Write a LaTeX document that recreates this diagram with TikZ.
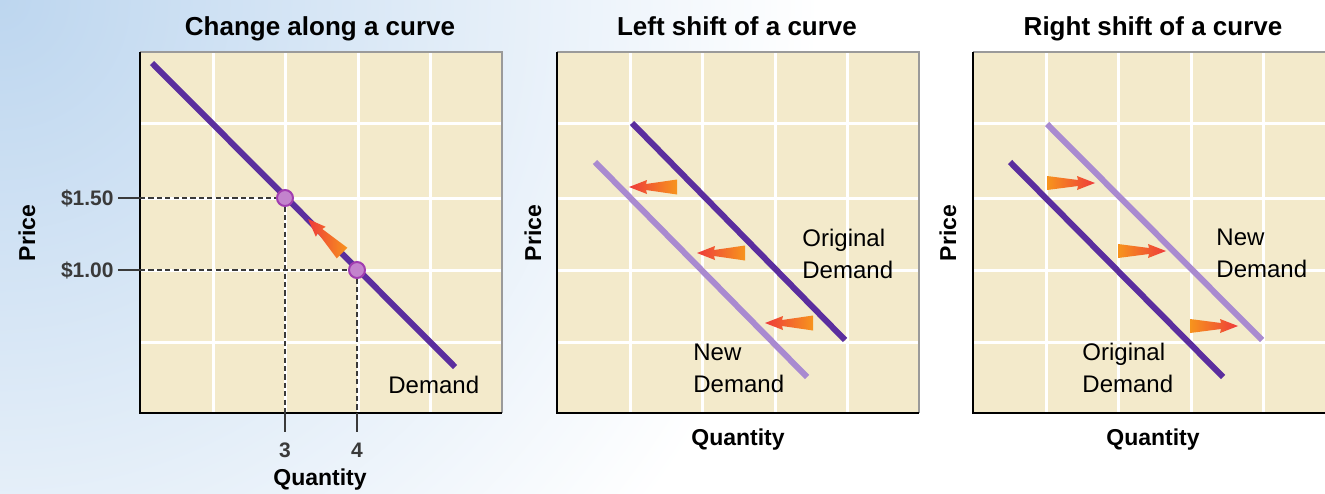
\documentclass[tikz,border=0pt]{standalone}
\usepackage{fontspec}
\setmainfont{Liberation Sans}
\usetikzlibrary{calc}
\definecolor{bgblue}{HTML}{BDD6EF}
\definecolor{plotbg}{HTML}{F3EACB}
\definecolor{darkpur}{HTML}{5B2E9E}
\definecolor{lightpur}{HTML}{A98AD0}
\definecolor{arrorange}{HTML}{F7941D}
\definecolor{arrred}{HTML}{EE3B3B}
\definecolor{ptfill}{HTML}{C383CD}
\definecolor{ptdraw}{HTML}{A13DB0}
\definecolor{framegray}{HTML}{9A9A9A}
\definecolor{guidegray}{HTML}{3A3A3A}
\tikzset{
  titletext/.style={font=\bfseries\fontsize{13}{15}\selectfont, inner sep=0pt, anchor=base},
  axlabel/.style={font=\bfseries\fontsize{11.5}{13}\selectfont, inner sep=0pt},
  ticklabel/.style={font=\bfseries\fontsize{10.5}{12}\selectfont, inner sep=0pt, text=guidegray},
  curvelabel/.style={font=\fontsize{12}{16}\selectfont, align=left, inner sep=0pt, anchor=north west},
  gridline/.style={white, line width=1.5pt},
  origline/.style={darkpur, line width=3pt},
  newline/.style={lightpur, line width=3pt},
  guide/.style={guidegray, line width=0.95pt, dash pattern=on 2.6pt off 1.6pt},
  tickline/.style={guidegray, line width=0.95pt},
  ptmark/.style={circle, fill=ptfill, draw=ptdraw, line width=1pt, minimum size=8pt, inner sep=0pt},
  pics/rarrow/.style={code={
    \shade[left color=arrorange, right color=arrred]
      (0,-7) -- (31,-3) -- (30,-7) -- (48,0) -- (30,7) -- (31,3) -- (0,7) -- cycle;
  }},
  pics/larrow/.style={code={
    \shade[left color=arrred, right color=arrorange]
      (0,-7.5) -- (-31,-3) -- (-30,-7) -- (-48,0) -- (-30,7) -- (-31,3) -- (0,7.5) -- cycle;
  }},
}
\newcommand{\plotframe}{%
  \fill[plotbg] (0,52) rectangle (362,413);
  \foreach \gx in {73,145,218,290} \draw[gridline] (\gx,52) -- (\gx,413);
  \foreach \gy in {123,198,270,342} \draw[gridline] (0,\gy) -- (362,\gy);
  \draw[framegray, line width=0.8pt] (0,52) -- (362,52) -- (362,413);
  \draw[black, line width=1.2pt] (0,52) -- (0,413) -- (362,413);
}
\begin{document}
\begin{tikzpicture}[x=0.5pt, y=-0.5pt]
  \useasboundingbox (0,0) rectangle (1325,493);
  \clip (0,0) rectangle (1325,493);
  \fill[white] (0,0) rectangle (1325,493);
  \shade[inner color=bgblue, outer color=white] (0,0) circle (820);

  % ---------------- Panel 1 ----------------
  \begin{scope}[shift={(140,0)}]
    \plotframe
    \node[titletext] (title1) at (180,35) {Change along a curve};
    \coordinate (d1s) at (12,63);
    \coordinate (d1e) at (315,367);
    \draw[origline] (d1s) -- (d1e);
    \coordinate (y150) at (0,198);
    \coordinate (y150t) at (-22,198);
    \coordinate (y100) at (0,270);
    \coordinate (y100t) at (-22,270);
    \coordinate (x3) at (145,413);
    \coordinate (x3t) at (145,432);
    \coordinate (x4) at (217,413);
    \coordinate (x4t) at (217,432);
    \coordinate (pA) at (145,198);
    \coordinate (pB) at (217,270);
    \draw[tickline] (y150t) -- (y150);
    \draw[tickline] (y100t) -- (y100);
    \draw[tickline] (x3) -- (x3t);
    \draw[tickline] (x4) -- (x4t);
    \draw[guide] (y150) -- (pA);
    \draw[guide] (y100) -- (pB);
    \draw[guide] (pA) -- (x3);
    \draw[guide] (pB) -- (x4);
    \pic[rotate=-45] at (202,253) {larrow};
    \node[ptmark] (ptA) at (pA) {};
    \node[ptmark] (ptB) at (pB) {};
    \node[ticklabel, anchor=east] (l150) at (-26,198) {\$1.50};
    \node[ticklabel, anchor=east] (l100) at (-26,270) {\$1.00};
    \node[ticklabel, anchor=base] (l3) at (145,457) {3};
    \node[ticklabel, anchor=base] (l4) at (217,457) {4};
    \node[axlabel, anchor=base] (q1) at (180,485) {Quantity};
    \node[axlabel, rotate=90] (p1) at (-113,233) {Price};
    \node[curvelabel, anchor=base west] (dem1) at (248,393) {Demand};
  \end{scope}

  % ---------------- Panel 2 ----------------
  \begin{scope}[shift={(557,0)}]
    \plotframe
    \node[titletext] (title2) at (180,35) {Left shift of a curve};
    \coordinate (o2s) at (75,123);
    \coordinate (o2e) at (288,340);
    \coordinate (n2s) at (38,162);
    \coordinate (n2e) at (250,377);
    \draw[newline] (n2s) -- (n2e);
    \draw[origline] (o2s) -- (o2e);
    \pic at (120,187) {larrow};
    \pic at (188,253) {larrow};
    \pic at (256,323) {larrow};
    \node[curvelabel] (orig2) at (245,229) {Original\\Demand};
    \node[curvelabel] (new2) at (136,344) {New\\Demand};
    \node[axlabel, anchor=base] (q2) at (181,445) {Quantity};
    \node[axlabel, rotate=90] (p2) at (-24,233) {Price};
  \end{scope}

  % ---------------- Panel 3 ----------------
  \begin{scope}[shift={(973,0)}]
    \plotframe
    \node[titletext] (title3) at (180,35) {Right shift of a curve};
    \coordinate (o3s) at (37,162);
    \coordinate (o3e) at (250,377);
    \coordinate (n3s) at (74,124);
    \coordinate (n3e) at (289,340);
    \draw[newline] (n3s) -- (n3e);
    \draw[origline] (o3s) -- (o3e);
    \pic at (74,183) {rarrow};
    \pic at (145,251) {rarrow};
    \pic at (217,326) {rarrow};
    \node[curvelabel] (new3) at (243,229) {New\\Demand};
    \node[curvelabel] (orig3) at (109,343) {Original\\Demand};
    \node[axlabel, anchor=base] (q3) at (180,445) {Quantity};
    \node[axlabel, rotate=90] (p3) at (-25,233) {Price};
  \end{scope}
\end{tikzpicture}
\end{document}
